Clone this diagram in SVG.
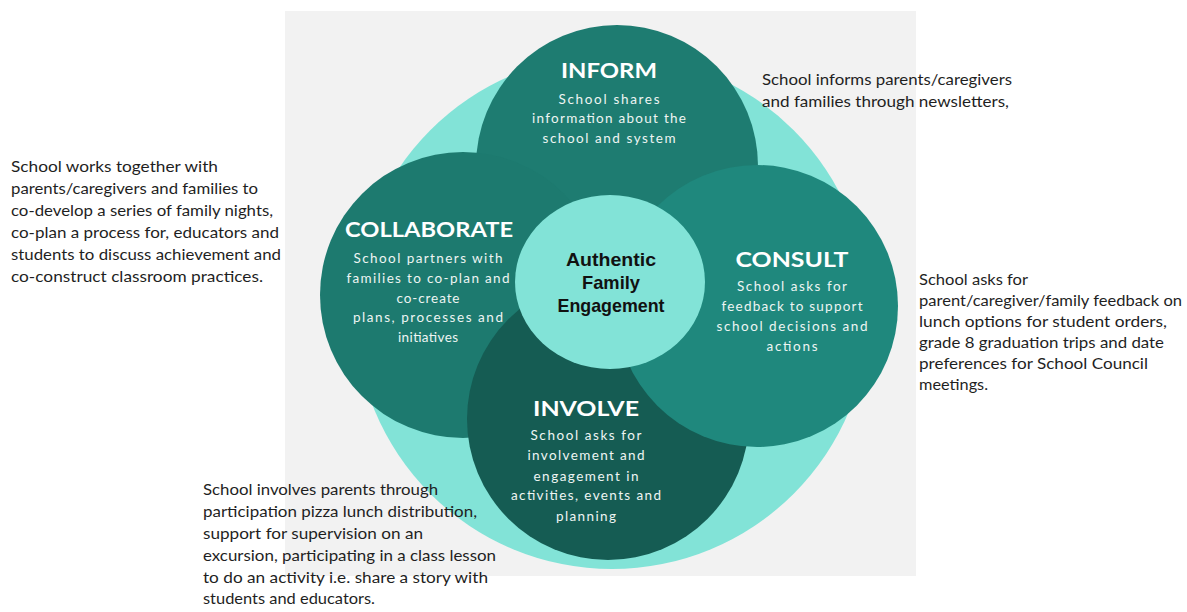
<svg xmlns="http://www.w3.org/2000/svg" width="1187" height="612" viewBox="0 0 1187 612">
<style>
.title{font-family:Lato,"Open Sans",sans-serif;font-weight:bold;font-size:20px;fill:#ffffff;text-anchor:middle}
.body{font-family:Lato,"Open Sans",sans-serif;font-size:13.5px;fill:#eef5f3;text-anchor:middle}
.side{font-family:Lato,"Open Sans",sans-serif;font-size:16px;fill:#1f1f1f}
.center{font-family:"Liberation Sans",Arial,sans-serif;font-weight:bold;font-size:19px;fill:#111111;text-anchor:middle}
</style>
<rect x="0" y="0" width="1187" height="612" fill="#ffffff"/>
<rect id="background" x="285" y="11" width="631" height="565" fill="#f2f2f2"/>
<circle id="halo" cx="612" cy="312" r="257" fill="#82e3d7"/>
<g id="inform">
<circle cx="617" cy="166" r="141" fill="#1e7c71"/>
<text class="title" x="609" y="78" textLength="96" lengthAdjust="spacingAndGlyphs">INFORM</text>
<text class="body" x="609" y="103.5" textLength="101" lengthAdjust="spacing">School shares</text>
<text class="body" x="609" y="122.5" textLength="154" lengthAdjust="spacing">information  about  the</text>
<text class="body" x="609" y="142.5" textLength="133" lengthAdjust="spacing">school and system</text>
</g>
<g id="collaborate">
<circle cx="463" cy="295" r="143" fill="#1d7a6f"/>
<text class="title" x="429" y="237" textLength="168" lengthAdjust="spacingAndGlyphs">COLLABORATE</text>
<text class="body" x="428" y="262.5" textLength="149" lengthAdjust="spacing">School partners with</text>
<text class="body" x="428" y="282.5" textLength="163" lengthAdjust="spacing">families to co-plan and</text>
<text class="body" x="428" y="302.5" textLength="63" lengthAdjust="spacing">co-create</text>
<text class="body" x="428" y="322" textLength="150" lengthAdjust="spacing">plans, processes and</text>
<text class="body" x="428" y="341.5" textLength="60" lengthAdjust="spacing">initiatives</text>
</g>
<g id="involve">
<circle cx="608" cy="419" r="141" fill="#155c53"/>
<text class="title" x="586" y="416" textLength="106" lengthAdjust="spacingAndGlyphs">INVOLVE</text>
<text class="body" x="586" y="440" textLength="111" lengthAdjust="spacing">School asks for</text>
<text class="body" x="586" y="460" textLength="117" lengthAdjust="spacing">involvement  and</text>
<text class="body" x="586" y="481" textLength="105" lengthAdjust="spacing">engagement in</text>
<text class="body" x="586" y="500" textLength="150" lengthAdjust="spacing">activities,  events  and</text>
<text class="body" x="586" y="521" textLength="60" lengthAdjust="spacing">planning</text>
</g>
<g id="consult">
<circle cx="757" cy="306" r="141" fill="#1f887d"/>
<text class="title" x="792" y="267" textLength="113" lengthAdjust="spacingAndGlyphs">CONSULT</text>
<text class="body" x="792" y="291" textLength="110" lengthAdjust="spacing">School asks for</text>
<text class="body" x="792" y="311" textLength="141" lengthAdjust="spacing">feedback to support</text>
<text class="body" x="792" y="331" textLength="151" lengthAdjust="spacing">school decisions and</text>
<text class="body" x="792" y="351" textLength="51" lengthAdjust="spacing">actions</text>
</g>
<g id="core">
<ellipse cx="610" cy="282" rx="95" ry="87" fill="#82e3d7"/>
<text class="center" x="611" y="266" textLength="90" lengthAdjust="spacingAndGlyphs">Authentic</text>
<text class="center" x="611" y="289" textLength="58" lengthAdjust="spacingAndGlyphs">Family</text>
<text class="center" x="611" y="312" textLength="107" lengthAdjust="spacingAndGlyphs">Engagement</text>
</g>
<g id="connectors"/>
<g id="note-collaborate">
<text class="side" x="11" y="172" textLength="207" lengthAdjust="spacingAndGlyphs">School works together with</text>
<text class="side" x="11" y="194" textLength="247" lengthAdjust="spacingAndGlyphs">parents/caregivers and families to</text>
<text class="side" x="11" y="216" textLength="262" lengthAdjust="spacingAndGlyphs">co-develop a series of family nights,</text>
<text class="side" x="11" y="237.5" textLength="268" lengthAdjust="spacingAndGlyphs">co-plan a process for, educators and</text>
<text class="side" x="11" y="259.5" textLength="270" lengthAdjust="spacingAndGlyphs">students to discuss achievement and</text>
<text class="side" x="11" y="281.5" textLength="252" lengthAdjust="spacingAndGlyphs">co-construct classroom practices.</text>
</g>
<g id="note-inform">
<text class="side" x="762" y="85" textLength="250" lengthAdjust="spacingAndGlyphs">School informs parents/caregivers</text>
<text class="side" x="762" y="107" textLength="247" lengthAdjust="spacingAndGlyphs">and families through newsletters,</text>
</g>
<g id="note-consult">
<text class="side" x="919" y="285" textLength="109" lengthAdjust="spacingAndGlyphs">School asks for</text>
<text class="side" x="919" y="306" textLength="263" lengthAdjust="spacingAndGlyphs">parent/caregiver/family feedback on</text>
<text class="side" x="919" y="327" textLength="248" lengthAdjust="spacingAndGlyphs">lunch options for student orders,</text>
<text class="side" x="919" y="348" textLength="245" lengthAdjust="spacingAndGlyphs">grade 8 graduation trips and date</text>
<text class="side" x="919" y="369" textLength="229" lengthAdjust="spacingAndGlyphs">preferences for School Council</text>
<text class="side" x="919" y="390" textLength="69" lengthAdjust="spacingAndGlyphs">meetings.</text>
</g>
<g id="note-involve">
<text class="side" x="203" y="495" textLength="235" lengthAdjust="spacingAndGlyphs">School involves parents through</text>
<text class="side" x="203" y="517" textLength="274" lengthAdjust="spacingAndGlyphs">participation pizza lunch distribution,</text>
<text class="side" x="203" y="538.5" textLength="220" lengthAdjust="spacingAndGlyphs">support for supervision on an</text>
<text class="side" x="203" y="561" textLength="293" lengthAdjust="spacingAndGlyphs">excursion, participating in a class lesson</text>
<text class="side" x="203" y="583" textLength="285" lengthAdjust="spacingAndGlyphs">to do an activity i.e. share a story with</text>
<text class="side" x="203" y="604" textLength="172" lengthAdjust="spacingAndGlyphs">students and educators.</text>
</g>
</svg>
